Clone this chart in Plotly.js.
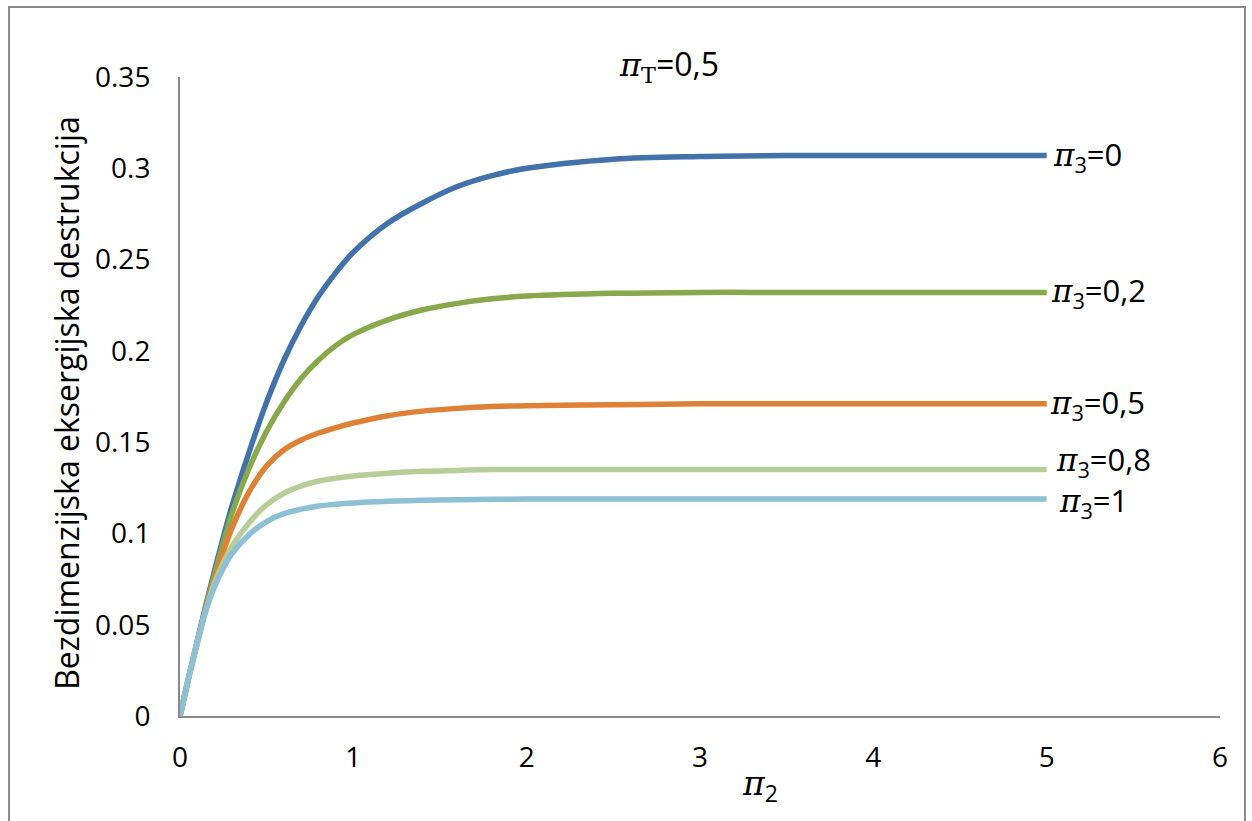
<!DOCTYPE html>
<html>
<head>
<meta charset="utf-8">
<script src="https://cdn.plot.ly/plotly-3.0.1.min.js"></script>
<style>html,body{margin:0;padding:0;background:#fff;}#chart{width:1252px;height:821px;}</style>
</head>
<body>
<div id="chart"></div>
<script>
// π2 values (x)
const pi2 = [0, 0.05, 0.1, 0.15, 0.2, 0.25, 0.3, 0.4, 0.5, 0.6, 0.7, 0.8, 0.9, 1.0, 1.2, 1.4, 1.6, 1.8, 2.0, 2.5, 3, 3.5, 4, 4.5, 5];
// series
const pi3_0  = [0, 0.021, 0.041, 0.061, 0.080, 0.098, 0.115, 0.145, 0.172, 0.195, 0.214, 0.230, 0.243, 0.254, 0.270, 0.281, 0.290, 0.296, 0.300, 0.305, 0.3065, 0.307, 0.307, 0.307, 0.307];
const pi3_02 = [0, 0.021, 0.041, 0.060, 0.078, 0.095, 0.111, 0.136, 0.156, 0.172, 0.185, 0.195, 0.203, 0.209, 0.217, 0.2225, 0.226, 0.2285, 0.230, 0.2315, 0.232, 0.232, 0.232, 0.232, 0.232];
const pi3_05 = [0, 0.021, 0.040, 0.059, 0.075, 0.090, 0.103, 0.123, 0.137, 0.1458, 0.1512, 0.155, 0.158, 0.1605, 0.1645, 0.167, 0.1685, 0.1695, 0.170, 0.1705, 0.171, 0.171, 0.171, 0.171, 0.171];
const pi3_08 = [0, 0.021, 0.040, 0.058, 0.073, 0.084, 0.093, 0.106, 0.1158, 0.122, 0.126, 0.1287, 0.1303, 0.1315, 0.133, 0.134, 0.1345, 0.135, 0.135, 0.135, 0.135, 0.135, 0.135, 0.135, 0.135];
const pi3_1  = [0, 0.021, 0.041, 0.058, 0.071, 0.081, 0.089, 0.0995, 0.1065, 0.1108, 0.1133, 0.115, 0.116, 0.1167, 0.1176, 0.1182, 0.1185, 0.1187, 0.1188, 0.1188, 0.1188, 0.1188, 0.1188, 0.1188, 0.1188];
const seriesLabels = ["=0", "=0,2", "=0,5", "=0,8", "=1"];
const xTicks = [0, 1, 2, 3, 4, 5, 6];
const yTicks = [0, 0.05, 0.1, 0.15, 0.2, 0.25, 0.3, 0.35];
const yTickText = ["0", "0.05", "0.1", "0.15", "0.2", "0.25", "0.3", "0.35"];

const seriesData = [pi3_0, pi3_02, pi3_05, pi3_08, pi3_1];
const colors = ["#4371A9", "#87A84B", "#DE8137", "#B7CD98", "#8DC0D4"];
const labelShift = [[4, 0], [2, 0], [1, 0], [7, 9], [10, -3]];

const traces = seriesData.map((ys, i) => ({
  x: pi2, y: ys, type: 'scatter', mode: 'lines',
  line: {color: colors[i], width: 5.5, shape: 'spline', smoothing: 1},
  showlegend: false, hoverinfo: 'skip'
}));

const serif = 'DejaVu Serif, Liberation Serif, serif';
const sans = 'Open Sans, Noto Sans, sans-serif';

const annotations = seriesData.map((ys, i) => ({
  x: pi2[pi2.length - 1], y: ys[ys.length - 1], xref: 'x', yref: 'y',
  xanchor: 'left', yanchor: 'middle', xshift: labelShift[i][0], yshift: labelShift[i][1],
  showarrow: false,
  text: '<span style="font-family:' + serif + '"><i>π</i></span><sub>3</sub>' + seriesLabels[i],
  font: {family: sans, size: 31, color: '#000'}
}));

annotations.push({
  x: 0.47, y: 1.0, xref: 'paper', yref: 'paper', xanchor: 'center', yanchor: 'middle', yshift: 12,
  showarrow: false,
  text: '<span style="font-family:' + serif + '"><i>π</i><sub>T</sub></span>=0,5',
  font: {family: sans, size: 32, color: '#000'}
});
annotations.push({
  x: 0.558, y: -0.11, xref: 'paper', yref: 'paper', xanchor: 'center', yanchor: 'middle',
  showarrow: false,
  text: '<span style="font-family:' + serif + '"><i>π</i></span><sub>2</sub>',
  font: {family: sans, size: 33, color: '#000'}
});
annotations.push({
  x: -0.1087, y: 0.49, xref: 'paper', yref: 'paper', xanchor: 'center', yanchor: 'middle',
  showarrow: false, textangle: -90,
  text: 'Bezdimenzijska eksergijska destrukcija',
  font: {family: sans, size: 32, color: '#000'}
});

const layout = {
  width: 1252, height: 821,
  margin: {l: 180, r: 32, t: 77, b: 105},
  paper_bgcolor: '#fff', plot_bgcolor: '#fff',
  xaxis: {
    range: [0, 6], tickvals: xTicks, ticks: '', showgrid: false, zeroline: false,
    showline: true, linecolor: '#8a8a8a', linewidth: 2, ticklabelstandoff: 15,
    tickfont: {family: sans, size: 28, color: '#000'}
  },
  yaxis: {
    range: [0, 0.35], tickvals: yTicks, ticktext: yTickText, ticks: '', showgrid: false, zeroline: false,
    showline: true, linecolor: '#8a8a8a', linewidth: 2, ticklabelstandoff: 22,
    tickfont: {family: sans, size: 28, color: '#000'}
  },
  annotations: annotations,
  shapes: [{
    type: 'rect', xref: 'paper', yref: 'paper',
    x0: -0.1644, x1: 1.024, y0: -0.2, y1: 1.1095,
    line: {color: '#8a8a8a', width: 2}, fillcolor: 'rgba(0,0,0,0)', layer: 'below'
  }]
};

Plotly.newPlot('chart', traces, layout, {staticPlot: true, displayModeBar: false});
</script>
</body>
</html>
